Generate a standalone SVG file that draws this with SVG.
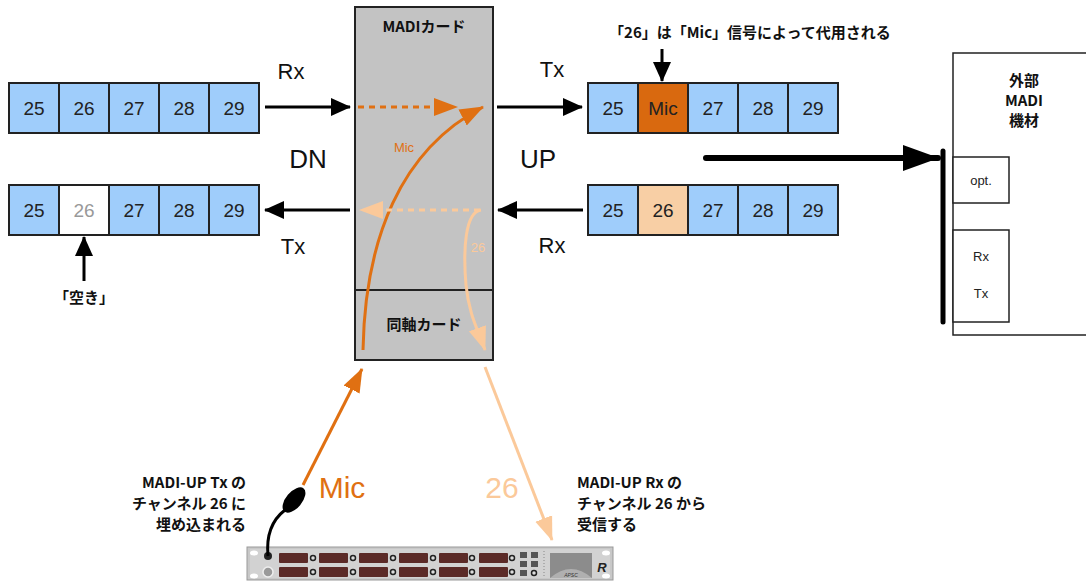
<svg xmlns="http://www.w3.org/2000/svg" width="1086" height="583" viewBox="0 0 1086 583">
  <style>
    .cell { fill: #9fcdfb; stroke: #222; stroke-width: 2; }
    .num { font-family: "Liberation Sans", Arial, sans-serif; font-size: 19px; fill: #222; text-anchor: middle; }
    .lbl { font-family: "Liberation Sans", Arial, sans-serif; font-size: 22px; fill: #111; text-anchor: middle; }
    .big { font-family: "Liberation Sans", Arial, sans-serif; font-size: 26px; fill: #111; text-anchor: middle; }
    .jp { font-family: "Noto Sans CJK JP", "Noto Sans", sans-serif; font-size: 15px; font-weight: bold; fill: #111; }
    .small { font-family: "Liberation Sans", Arial, sans-serif; font-size: 13px; fill: #222; text-anchor: middle; }
    .blk { stroke: #000; stroke-width: 3; fill: none; }
    .disp { fill: #5b2a27; }
    .knob { fill: #ddd; stroke: #222; stroke-width: 1.5; }
  </style>
  <defs>
    <marker id="ah" markerUnits="userSpaceOnUse" markerWidth="20" markerHeight="20" viewBox="0 0 20 20" refX="19" refY="10" orient="auto">
      <path d="M0,1 L20,10 L0,19 Z" fill="#000"/>
    </marker>
    <marker id="ahBig" markerUnits="userSpaceOnUse" markerWidth="36" markerHeight="26" viewBox="0 0 36 26" refX="35" refY="13" orient="auto">
      <path d="M0,0 L36,13 L0,26 Z" fill="#000"/>
    </marker>
    <marker id="ahOr" markerUnits="userSpaceOnUse" markerWidth="24" markerHeight="20" viewBox="0 0 24 20" refX="23" refY="10" orient="auto">
      <path d="M0,1 L24,10 L0,19 Z" fill="#e07012"/>
    </marker>
    <marker id="ahPe" markerUnits="userSpaceOnUse" markerWidth="24" markerHeight="20" viewBox="0 0 24 20" refX="23" refY="10" orient="auto">
      <path d="M0,1 L24,10 L0,19 Z" fill="#fbc99a"/>
    </marker>
  </defs>

  <!-- MADI card with coax card below -->
  <g id="madi-card">
    <rect x="355" y="7" width="138" height="353" fill="#c3c3c3" stroke="#222" stroke-width="2"/>
    <line x1="355" y1="290" x2="493" y2="290" stroke="#222" stroke-width="2"/>
    <text class="jp" x="424" y="32" text-anchor="middle">MADIカード</text>
    <text class="jp" x="424" y="330" text-anchor="middle">同軸カード</text>
  </g>

  <!-- Left: DN channel rows -->
  <g id="dn-rx-row">
    <rect class="cell" x="9" y="83" width="50" height="50"/>
    <rect class="cell" x="59" y="83" width="50" height="50"/>
    <rect class="cell" x="109" y="83" width="50" height="50"/>
    <rect class="cell" x="159" y="83" width="50" height="50"/>
    <rect class="cell" x="209" y="83" width="50" height="50"/>
    <text class="num" x="34" y="115">25</text>
    <text class="num" x="84" y="115">26</text>
    <text class="num" x="134" y="115">27</text>
    <text class="num" x="184" y="115">28</text>
    <text class="num" x="234" y="115">29</text>
  </g>
  <g id="dn-tx-row">
    <rect class="cell" x="9" y="185" width="50" height="50"/>
    <rect class="cell" x="59" y="185" width="50" height="50" style="fill:#fff"/>
    <rect class="cell" x="109" y="185" width="50" height="50"/>
    <rect class="cell" x="159" y="185" width="50" height="50"/>
    <rect class="cell" x="209" y="185" width="50" height="50"/>
    <text class="num" x="34" y="217">25</text>
    <text class="num" x="84" y="217" style="fill:#999">26</text>
    <text class="num" x="134" y="217">27</text>
    <text class="num" x="184" y="217">28</text>
    <text class="num" x="234" y="217">29</text>
  </g>
  <g id="dn-labels">
    <text class="lbl" x="291" y="79">Rx</text>
    <text class="big" x="308" y="168">DN</text>
    <text class="lbl" x="293" y="254">Tx</text>
    <text class="jp" x="84" y="303" text-anchor="middle">「空き」</text>
  </g>

  <!-- Right: UP channel rows -->
  <g id="up-tx-row">
    <rect class="cell" x="588" y="83" width="50" height="50"/>
    <rect class="cell" x="638" y="83" width="50" height="50" style="fill:#d9690f"/>
    <rect class="cell" x="688" y="83" width="50" height="50"/>
    <rect class="cell" x="738" y="83" width="50" height="50"/>
    <rect class="cell" x="788" y="83" width="50" height="50"/>
    <text class="num" x="613" y="115">25</text>
    <text class="num" x="663" y="115">Mic</text>
    <text class="num" x="713" y="115">27</text>
    <text class="num" x="763" y="115">28</text>
    <text class="num" x="813" y="115">29</text>
  </g>
  <g id="up-rx-row">
    <rect class="cell" x="588" y="185" width="50" height="50"/>
    <rect class="cell" x="638" y="185" width="50" height="50" style="fill:#f8cfa5"/>
    <rect class="cell" x="688" y="185" width="50" height="50"/>
    <rect class="cell" x="738" y="185" width="50" height="50"/>
    <rect class="cell" x="788" y="185" width="50" height="50"/>
    <text class="num" x="613" y="217">25</text>
    <text class="num" x="663" y="217">26</text>
    <text class="num" x="713" y="217">27</text>
    <text class="num" x="763" y="217">28</text>
    <text class="num" x="813" y="217">29</text>
  </g>
  <g id="up-labels">
    <text class="lbl" x="552" y="77">Tx</text>
    <text class="big" x="538" y="168">UP</text>
    <text class="lbl" x="552" y="253">Rx</text>
    <text class="jp" x="750" y="38" text-anchor="middle">「26」は「Mic」信号によって代用される</text>
  </g>

  <!-- External MADI equipment -->
  <g id="external-madi">
    <rect x="953" y="53" width="140" height="282" fill="#fff" stroke="#222" stroke-width="1.5"/>
    <text class="jp" x="1024" y="86" text-anchor="middle">外部</text>
    <text class="jp" x="1024" y="106" text-anchor="middle">MADI</text>
    <text class="jp" x="1024" y="126" text-anchor="middle">機材</text>
    <rect x="953" y="157" width="56" height="46" fill="#fff" stroke="#222" stroke-width="1.5"/>
    <text class="small" x="981" y="185">opt.</text>
    <rect x="953" y="230" width="56" height="92" fill="#fff" stroke="#222" stroke-width="1.5"/>
    <text class="small" x="981" y="261">Rx</text>
    <text class="small" x="981" y="298">Tx</text>
    <line x1="943" y1="151" x2="943" y2="322" stroke="#000" stroke-width="5" stroke-linecap="round"/>
  </g>

  <!-- MADI-UP rack unit -->
  <g id="madi-up-device">
    <rect x="247" y="547" width="366" height="33" fill="#c8c8c8" stroke="#999" stroke-width="1"/>
    <rect x="250" y="549" width="360" height="29" fill="#d2d2d2"/>
    <ellipse cx="254" cy="553" rx="4" ry="2.5" fill="#fff"/>
    <ellipse cx="254" cy="576" rx="4" ry="2.5" fill="#fff"/>
    <ellipse cx="606" cy="553" rx="4" ry="2.5" fill="#fff"/>
    <ellipse cx="606" cy="576" rx="4" ry="2.5" fill="#fff"/>
    <circle cx="268" cy="556" r="4" fill="#222"/>
    <circle cx="268" cy="572" r="5" fill="#9a9a9a" stroke="#eee" stroke-width="1.5"/>
    <g id="device-displays">
      <rect class="disp" x="279" y="553" width="29" height="10" rx="1"/>
      <rect class="disp" x="279" y="567" width="29" height="10" rx="1"/>
      <rect class="disp" x="319" y="553" width="29" height="10" rx="1"/>
      <rect class="disp" x="319" y="567" width="29" height="10" rx="1"/>
      <rect class="disp" x="359" y="553" width="29" height="10" rx="1"/>
      <rect class="disp" x="359" y="567" width="29" height="10" rx="1"/>
      <rect class="disp" x="399" y="553" width="29" height="10" rx="1"/>
      <rect class="disp" x="399" y="567" width="29" height="10" rx="1"/>
      <rect class="disp" x="439" y="553" width="29" height="10" rx="1"/>
      <rect class="disp" x="439" y="567" width="29" height="10" rx="1"/>
      <rect class="disp" x="479" y="553" width="29" height="10" rx="1"/>
      <rect class="disp" x="479" y="567" width="29" height="10" rx="1"/>
    </g>
    <g id="device-knobs">
      <circle class="knob" cx="313" cy="558" r="2.5"/>
      <circle class="knob" cx="313" cy="572" r="2.5"/>
      <circle class="knob" cx="353" cy="558" r="2.5"/>
      <circle class="knob" cx="353" cy="572" r="2.5"/>
      <circle class="knob" cx="393" cy="558" r="2.5"/>
      <circle class="knob" cx="393" cy="572" r="2.5"/>
      <circle class="knob" cx="433" cy="558" r="2.5"/>
      <circle class="knob" cx="433" cy="572" r="2.5"/>
      <circle class="knob" cx="472" cy="558" r="2.5"/>
      <circle class="knob" cx="472" cy="572" r="2.5"/>
      <circle class="knob" cx="512" cy="558" r="2.5"/>
      <circle class="knob" cx="512" cy="572" r="2.5"/>
    </g>
    <g id="device-ports" fill="#555">
      <rect x="520" y="552" width="7" height="6"/>
      <rect x="531" y="552" width="7" height="6"/>
      <rect x="520" y="561" width="7" height="6"/>
      <rect x="531" y="561" width="7" height="6"/>
      <rect x="520" y="570" width="7" height="6"/>
      <circle cx="534" cy="573" r="2.5" fill="#ddd" stroke="#222" stroke-width="1.5"/>
    </g>
    <line x1="544" y1="551" x2="544" y2="577" stroke="#888" stroke-width="1" stroke-dasharray="1 2"/>
    <rect x="550" y="553" width="42" height="25" fill="#8c8c8c"/>
    <path d="M550,578 Q571,560 592,578 Z" fill="#b0b0b0"/>
    <text x="571" y="577" font-family="Liberation Sans, Arial, sans-serif" font-size="5" font-style="italic" fill="#333" text-anchor="middle">APSC</text>
    <text x="602" y="572" font-family="Liberation Sans, Arial, sans-serif" font-size="13" font-weight="bold" font-style="italic" fill="#222" text-anchor="middle">R</text>
  </g>

  <!-- Microphone plugged into the unit -->
  <g id="microphone">
    <path d="M268,556 C266,535 272,520 285,510" stroke="#000" stroke-width="3" fill="none"/>
    <ellipse cx="294" cy="500" rx="15" ry="8" transform="rotate(-50 294 500)" fill="#000"/>
  </g>

  <g id="bottom-labels">
    <text class="jp" x="246" y="488" text-anchor="end">MADI-UP Tx の</text>
    <text class="jp" x="246" y="509" text-anchor="end">チャンネル 26 に</text>
    <text class="jp" x="246" y="530" text-anchor="end">埋め込まれる</text>
    <text class="jp" x="577" y="488">MADI-UP Rx の</text>
    <text class="jp" x="577" y="509">チャンネル 26 から</text>
    <text class="jp" x="577" y="530">受信する</text>
    <text x="342" y="498" font-family="Liberation Sans, Arial, sans-serif" font-size="30" fill="#e07012" text-anchor="middle">Mic</text>
    <text x="502" y="498" font-family="Liberation Sans, Arial, sans-serif" font-size="30" fill="#fbc99a" text-anchor="middle">26</text>
    <text x="404" y="152" font-family="Liberation Sans, Arial, sans-serif" font-size="13" fill="#e07012" text-anchor="middle">Mic</text>
    <text x="478" y="252" font-family="Liberation Sans, Arial, sans-serif" font-size="13" fill="#fbc99a" text-anchor="middle">26</text>
  </g>

  <!-- Signal connectors -->
  <g id="connectors">
    <line class="blk" x1="265" y1="107" x2="350" y2="107" marker-end="url(#ah)"/>
    <line class="blk" x1="350" y1="210" x2="265" y2="210" marker-end="url(#ah)"/>
    <line class="blk" x1="497" y1="107" x2="582" y2="107" marker-end="url(#ah)"/>
    <line class="blk" x1="583" y1="210" x2="498" y2="210" marker-end="url(#ah)"/>
    <line class="blk" x1="662" y1="49" x2="662" y2="81" marker-end="url(#ah)"/>
    <line class="blk" x1="84" y1="281" x2="84" y2="237" marker-end="url(#ah)"/>
    <line x1="706" y1="158" x2="938" y2="158" stroke="#000" stroke-width="6" stroke-linecap="round" marker-end="url(#ahBig)"/>

    <line x1="358" y1="107" x2="457" y2="107" stroke="#e07012" stroke-width="3" stroke-dasharray="6 5" marker-end="url(#ahOr)"/>
    <path d="M363,350 C365,240 400,150 483,107" stroke="#e07012" stroke-width="3" fill="none" marker-end="url(#ahOr)"/>
    <line x1="480" y1="210" x2="360" y2="210" stroke="#fbc99a" stroke-width="3" stroke-dasharray="6 5" marker-end="url(#ahPe)"/>
    <path d="M481,210 C465,212 463,250 466,285 C469,315 478,330 485,350" stroke="#fbc99a" stroke-width="3" fill="none" marker-end="url(#ahPe)"/>

    <line x1="303" y1="485" x2="362" y2="369" stroke="#e07012" stroke-width="3" marker-end="url(#ahOr)"/>
    <line x1="485" y1="367" x2="552" y2="540" stroke="#fbc99a" stroke-width="3" marker-end="url(#ahPe)"/>
  </g>
</svg>
